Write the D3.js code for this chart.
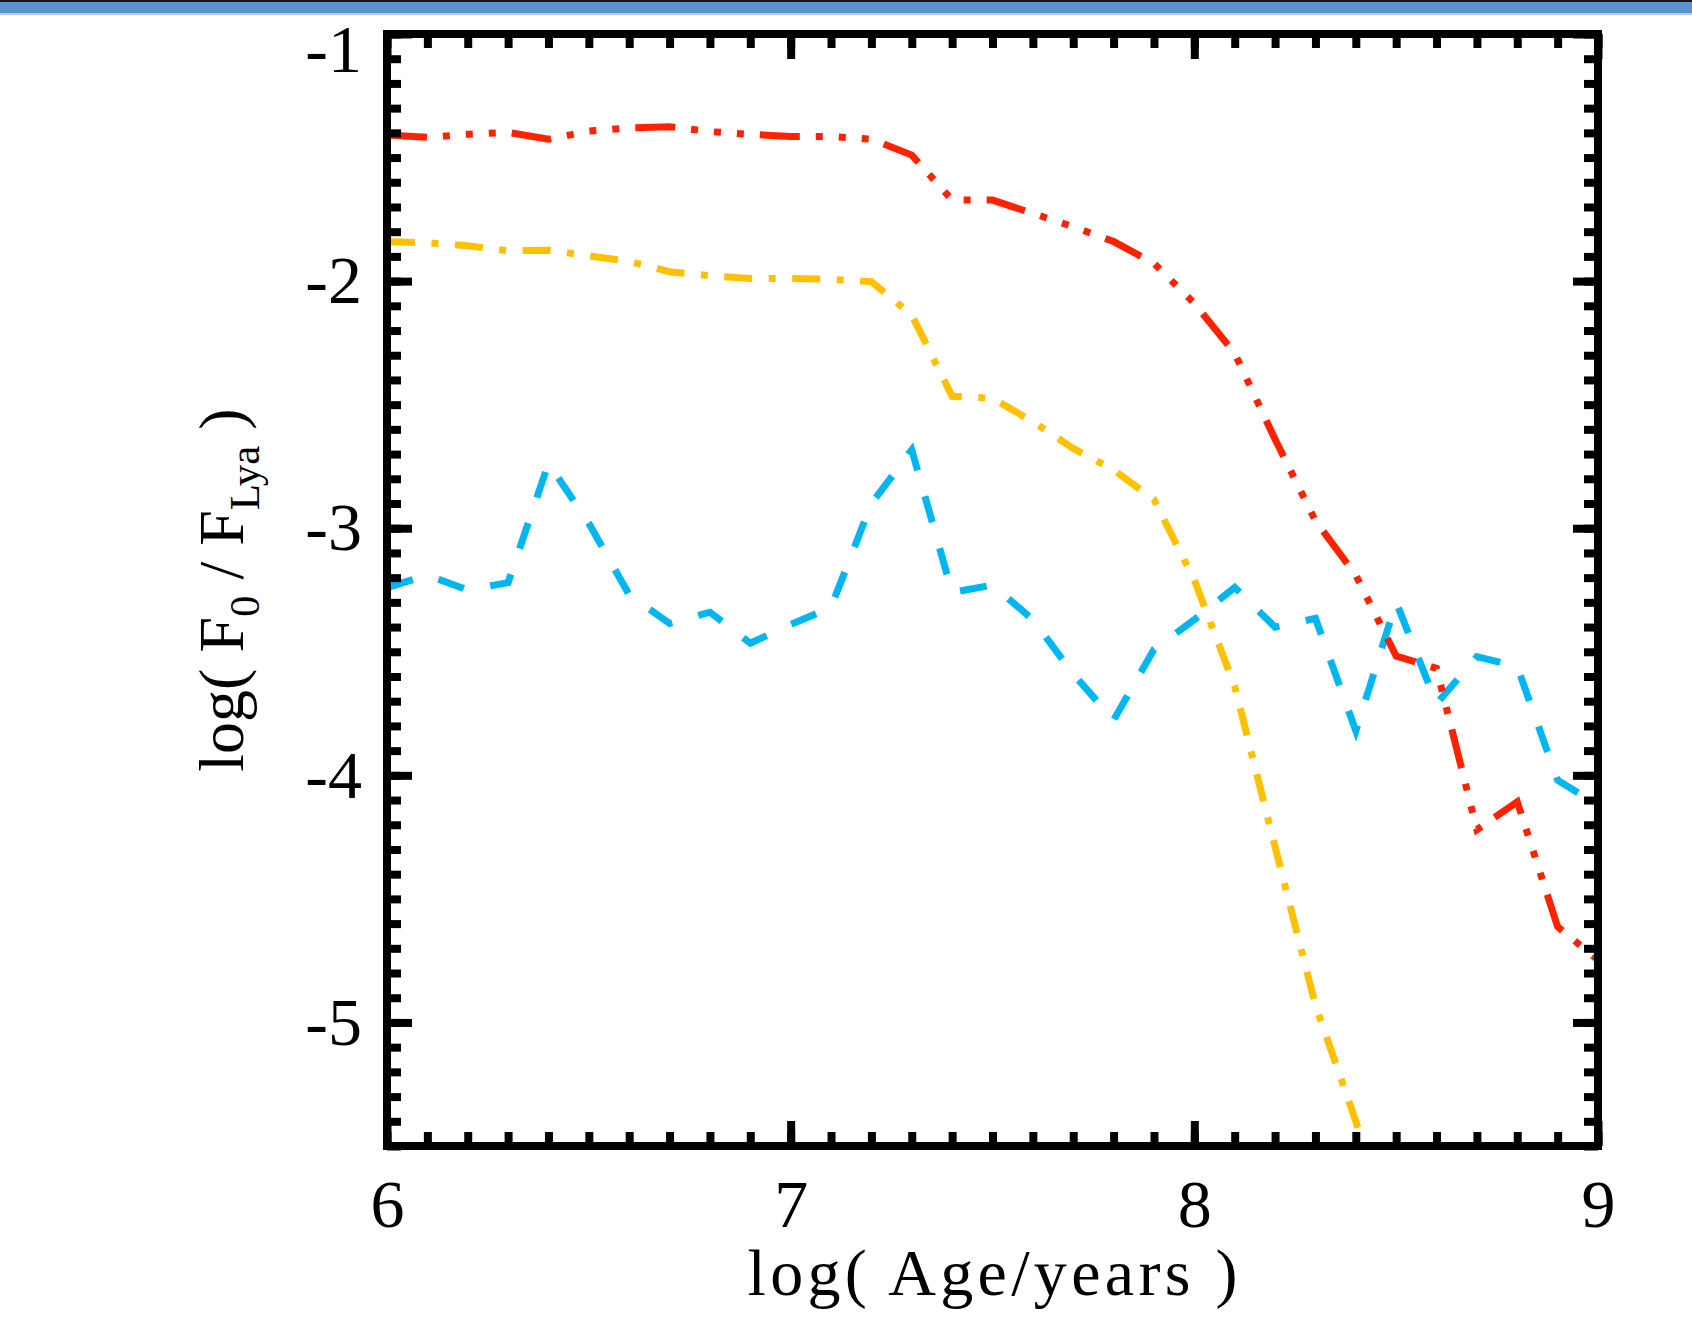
<!DOCTYPE html>
<html>
<head>
<meta charset="utf-8">
<script src="https://cdn.jsdelivr.net/npm/d3@7"></script>
<style>
  html, body { margin: 0; padding: 0; background: #fff; }
  svg { display: block; }
  text { font-family: "Liberation Serif", "DejaVu Serif", serif; fill: #000; }
</style>
</head>
<body>
<div id="chart"></div>
<script>
var width = 1692,
    height = 1326;

// log(Age/years) sampled every 0.1 dex
var ages = [6.0, 6.1, 6.2, 6.3, 6.4, 6.5, 6.6, 6.7, 6.8, 6.9,
            7.0, 7.1, 7.2, 7.3, 7.4, 7.5, 7.6, 7.7, 7.8, 7.9,
            8.0, 8.1, 8.2, 8.3, 8.4, 8.5, 8.6, 8.7, 8.8, 8.9, 9.0];

// log(F0/FLya)
var fluxRed = [-1.409, -1.418, -1.406, -1.398, -1.426, -1.393, -1.380, -1.375, -1.395, -1.406,
               -1.415, -1.415, -1.426, -1.490, -1.672, -1.672, -1.726, -1.780, -1.840, -1.928,
               -2.090, -2.292, -2.640, -2.970, -3.190, -3.517, -3.567, -4.220, -4.107, -4.613, -4.747];

var fluxOrange = [-1.840, -1.845, -1.857, -1.877, -1.875, -1.898, -1.920, -1.962, -1.978, -1.989,
                  -1.989, -1.993, -2.002, -2.137, -2.466, -2.474, -2.569, -2.677, -2.764, -2.884,
                  -3.210, -3.640, -4.290, -4.930, -5.400, -5.950];

var fluxBlue = [-3.240, -3.190, -3.250, -3.220, -2.737, -2.980, -3.270, -3.385, -3.340, -3.465,
                -3.390, -3.320, -2.900, -2.683, -3.260, -3.230, -3.370, -3.590, -3.776, -3.490,
                -3.370, -3.240, -3.400, -3.365, -3.820, -3.300, -3.710, -3.520, -3.560, -4.020, -4.120];

var xTicks = [6, 7, 8, 9],
    yTicks = [-5, -4, -3, -2, -1];

var x = d3.scaleLinear().domain([6, 9]).range([387, 1598]);
var y = d3.scaleLinear().domain([-5.5, -1]).range([1146, 34]);

var svg = d3.select("#chart").append("svg")
    .attr("width", width)
    .attr("height", height);

svg.append("rect").attr("width", width).attr("height", height).attr("fill", "#fff");

// slide header band
svg.append("rect").attr("x", 0).attr("y", 0).attr("width", width).attr("height", 14).attr("fill", "#5895d6");
svg.append("rect").attr("x", 0).attr("y", 13).attr("width", width).attr("height", 2).attr("fill", "#b3cdea");
svg.append("rect").attr("x", 0).attr("y", 0).attr("width", width).attr("height", 2).attr("fill", "#1a1a1a");

// clip lines to the plot box
svg.append("clipPath").attr("id", "plotclip")
  .append("rect")
    .attr("x", x(6)).attr("y", y(-1))
    .attr("width", x(9) - x(6)).attr("height", y(-5.5) - y(-1));

var line = d3.line()
  .x(function(d) { return x(d[0]); })
  .y(function(d) { return y(d[1]); });

var series = [
  { values: fluxBlue, color: "#00b6f0", dash: "27,27" },
  { values: fluxOrange, color: "#ffc000", dash: "28,16.5,7,16.5" },
  { values: fluxRed, color: "#ff2200", dash: "40,16,7,16,7,16,7,16" }
];

var lines = svg.append("g").attr("clip-path", "url(#plotclip)");
series.forEach(function(s) {
  var pts = s.values.map(function(v, i) { return [ages[i], v]; });
  lines.append("path")
    .datum(pts)
    .attr("d", line)
    .attr("fill", "none")
    .attr("stroke", s.color)
    .attr("stroke-width", 7)
    .attr("stroke-dasharray", s.dash);
});

// tick marks (inward, IDL style), minor every 0.1
var xMinor = d3.range(60, 91).map(function(d) { return d / 10; });
var yMinor = d3.range(-55, -9).map(function(d) { return d / 10; });

function styleAxis(g) {
  g.select(".domain").remove();
  g.selectAll(".tick line").attr("stroke", "#000").attr("stroke-width", 8);
  g.selectAll(".tick text")
    .style("font-family", "'Liberation Serif', 'DejaVu Serif', serif")
    .style("font-size", "68px")
    .attr("fill", "#000");
}

// bottom
svg.append("g").attr("transform", "translate(0," + y(-5.5) + ")")
  .call(d3.axisBottom(x).tickValues(xMinor).tickSize(-14).tickFormat(""))
  .call(styleAxis);
svg.append("g").attr("transform", "translate(0," + y(-5.5) + ")")
  .call(d3.axisBottom(x).tickValues(xTicks).tickSize(-25).tickPadding(33).tickFormat(d3.format("d")))
  .call(styleAxis);
// top
svg.append("g").attr("transform", "translate(0," + y(-1) + ")")
  .call(d3.axisTop(x).tickValues(xMinor).tickSize(-14).tickFormat(""))
  .call(styleAxis);
svg.append("g").attr("transform", "translate(0," + y(-1) + ")")
  .call(d3.axisTop(x).tickValues(xTicks).tickSize(-25).tickFormat(""))
  .call(styleAxis);
// left
svg.append("g").attr("transform", "translate(" + x(6) + ",0)")
  .call(d3.axisLeft(y).tickValues(yMinor).tickSize(-14).tickFormat(""))
  .call(styleAxis);
var leftMajor = svg.append("g").attr("transform", "translate(" + x(6) + ",0)")
  .call(d3.axisLeft(y).tickValues(yTicks).tickSize(-25).tickPadding(25)
    .tickFormat(function(d) { return "-" + Math.abs(d); }))
  .call(styleAxis);
// top label sits a bit lower, as in the original
leftMajor.selectAll(".tick text").filter(function(d) { return d === -1; }).attr("dy", "0.55em");
// right
svg.append("g").attr("transform", "translate(" + x(9) + ",0)")
  .call(d3.axisRight(y).tickValues(yMinor).tickSize(-14).tickFormat(""))
  .call(styleAxis);
svg.append("g").attr("transform", "translate(" + x(9) + ",0)")
  .call(d3.axisRight(y).tickValues(yTicks).tickSize(-25).tickFormat(""))
  .call(styleAxis);

// frame
svg.append("rect")
  .attr("x", x(6)).attr("y", y(-1))
  .attr("width", x(9) - x(6)).attr("height", y(-5.5) - y(-1))
  .attr("fill", "none")
  .attr("stroke", "#000")
  .attr("stroke-width", 8);

// axis titles
svg.append("text")
  .attr("x", (x(6) + x(9)) / 2)
  .attr("y", 1295)
  .attr("text-anchor", "middle")
  .attr("textLength", 490)
  .attr("lengthAdjust", "spacing")
  .style("font-size", "66px")
  .style("white-space", "pre")
  .text("log( Age/years )");

var ylab = svg.append("text")
  .attr("transform", "translate(243," + ((y(-1) + y(-5.5)) / 2) + ") rotate(-90)")
  .attr("text-anchor", "middle")
  .style("font-size", "64px")
  .style("white-space", "pre");
ylab.append("tspan").text("log( F");
ylab.append("tspan").attr("dy", 16).style("font-size", "43px").text("0");
ylab.append("tspan").attr("dy", -16).text(" / F");
ylab.append("tspan").attr("dy", 16).style("font-size", "43px").text("Lya");
ylab.append("tspan").attr("dy", -16).text(" )");
</script>
</body>
</html>
